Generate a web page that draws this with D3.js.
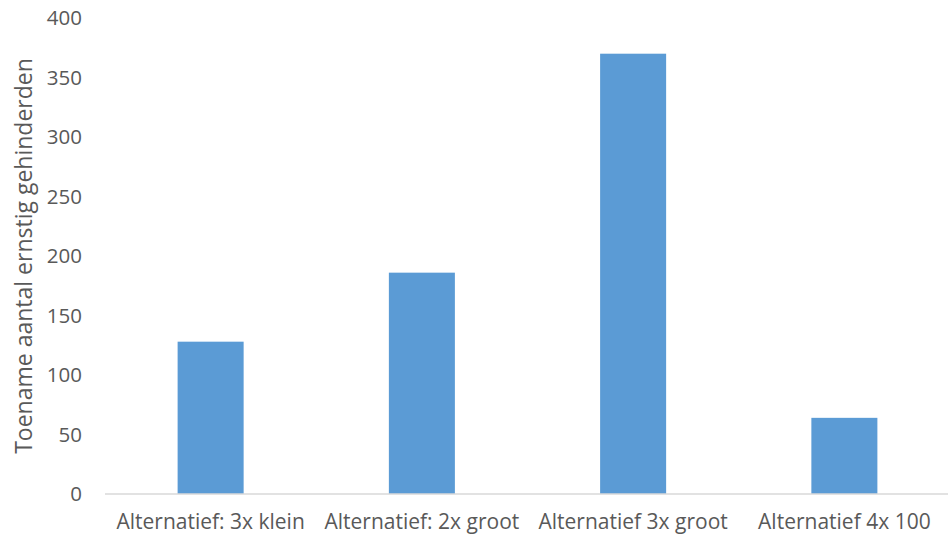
<!DOCTYPE html>
<html>
<head>
<meta charset="utf-8">
<script src="https://cdn.jsdelivr.net/npm/d3@7/dist/d3.min.js"></script>
<style>
  html, body { margin: 0; padding: 0; background: #fff; }
  svg { display: block; }
  text { font-family: "Open Sans", "Noto Sans", sans-serif; fill: #595959; }
</style>
</head>
<body>
<svg id="chart" width="948" height="538"></svg>
<script>
// Toename aantal ernstig gehinderden per alternatief
const categories = ["Alternatief: 3x klein", "Alternatief: 2x groot", "Alternatief 3x groot", "Alternatief 4x 100"];
const values = [128, 186, 370, 64];
const yTicks = [0, 50, 100, 150, 200, 250, 300, 350, 400];
const yTitle = "Toename aantal ernstig gehinderden";

const svg = d3.select("#chart");
const margin = { left: 105, right: -2, top: 18, bottom: 44 };
const width = 948, height = 538;

const x = d3.scaleBand()
  .domain(categories)
  .range([margin.left, width - margin.right])
  .paddingInner(0.6875)
  .paddingOuter(0.34375);

const y = d3.scaleLinear()
  .domain([0, 400])
  .range([494, margin.top]);

// bars
svg.append("g")
  .selectAll("rect")
  .data(values)
  .join("rect")
  .attr("x", (d, i) => x(categories[i]))
  .attr("width", x.bandwidth())
  .attr("y", d => y(d))
  .attr("height", d => y(0) - y(d))
  .attr("fill", "#5b9bd5");

// baseline
svg.append("line")
  .attr("x1", margin.left).attr("x2", width)
  .attr("y1", y(0)).attr("y2", y(0))
  .attr("stroke", "#d9d9d9").attr("stroke-width", 1.3);

// y axis labels
const yAxis = svg.append("g")
  .attr("transform", `translate(${margin.left},0)`)
  .call(d3.axisLeft(y).tickValues(yTicks).tickSize(0).tickPadding(23));
yAxis.select(".domain").remove();
yAxis.selectAll("text")
  .style("font-family", '"Open Sans", "Noto Sans", sans-serif')
  .style("font-size", "20.5px")
  .attr("fill", "#595959");

// x axis labels
const xAxis = svg.append("g")
  .attr("transform", `translate(0,${y(0)})`)
  .call(d3.axisBottom(x).tickSize(0).tickPadding(20));
xAxis.select(".domain").remove();
xAxis.selectAll("text")
  .style("font-family", '"Open Sans", "Noto Sans", sans-serif')
  .style("font-size", "21px")
  .attr("fill", "#595959");

// y title
svg.append("text")
  .attr("transform", `translate(32,${(y(0) + y(400)) / 2}) rotate(-90)`)
  .attr("text-anchor", "middle")
  .style("font-size", "23px")
  .text(yTitle);
</script>
</body>
</html>
